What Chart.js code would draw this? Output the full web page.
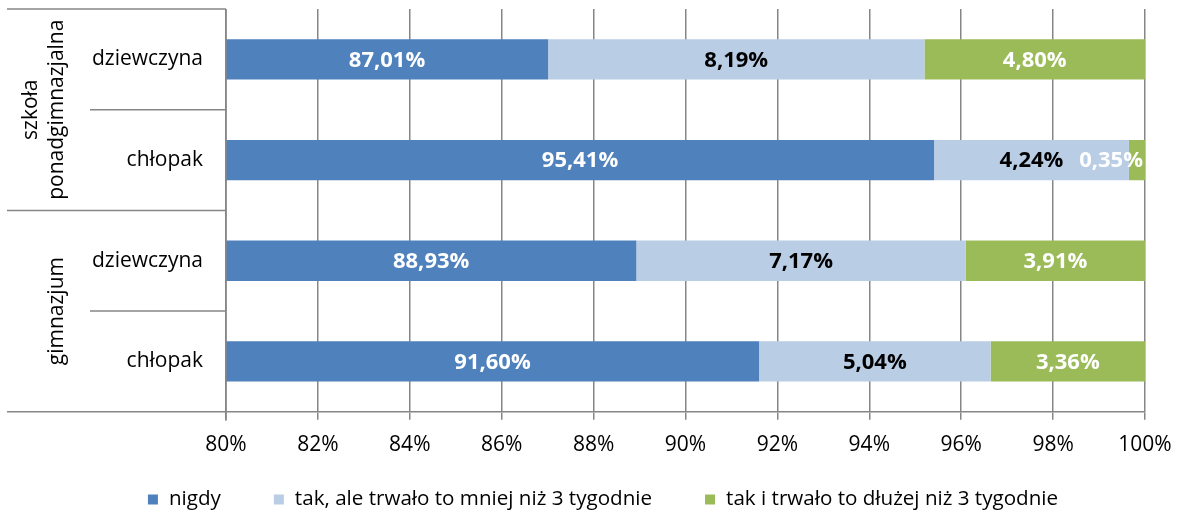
<!DOCTYPE html>
<html lang="pl">

<head>
  <title>Bar chart</title>
  <script src="https://cdn.jsdelivr.net/npm/chart.js"></script>
  <meta charset="utf-8"/>
  <style>
    html, body {
      margin: 0;
      padding: 0;
      background: #fff;
    }

    #chart {
      width: 1181px;
      height: 512px;
    }
  </style>
</head>

<body>
  <div id="chart">
    <canvas id="my_chart"></canvas>
  </div>

<script>
var categoryLabels = ['dziewczyna', 'chłopak', 'dziewczyna', 'chłopak'];
var groupLabels = [['szkoła', 'ponadgimnazjalna'], ['gimnazjum']];
var seriesLabels = ['nigdy', 'tak, ale trwało to mniej niż 3 tygodnie', 'tak i trwało to dłużej niż 3 tygodnie'];
var nigdy = [87.01, 95.41, 88.93, 91.60];
var takKrotko = [8.19, 4.24, 7.17, 5.04];
var takDlugo = [4.80, 0.35, 3.91, 3.36];

const COLORS = ['#4F81BD', '#B9CDE5', '#9BBB59'];
const LABEL_COLORS = ['#ffffff', '#000000', '#ffffff'];
const GRID = '#868686';
const FONT = '"Open Sans", Lato, sans-serif';

function fmt(v) {
  return v.toFixed(2).replace('.', ',') + '%';
}

// value labels in the middle of the visible part of each segment
const barLabels = {
  id: 'barLabels',
  afterDatasetsDraw(chart) {
    const ctx = chart.ctx;
    const area = chart.chartArea;
    ctx.save();
    ctx.font = 'bold 22px ' + FONT;
    ctx.textAlign = 'center';
    ctx.textBaseline = 'middle';
    chart.data.datasets.forEach((ds, i) => {
      chart.getDatasetMeta(i).data.forEach((bar, j) => {
        const l = Math.max(Math.min(bar.x, bar.base), area.left);
        const r = Math.min(Math.max(bar.x, bar.base), area.right);
        let cx = (l + r) / 2;
        const w = ctx.measureText(fmt(ds.data[j])).width;
        if (cx + w / 2 > area.right - 2) cx = area.right - 2 - w / 2;
        ctx.fillStyle = LABEL_COLORS[i];
        ctx.fillText(fmt(ds.data[j]), cx, bar.y + 1);
      });
    });
    ctx.restore();
  }
};

// two level category axis: separators, category names and rotated group names
const groupAxis = {
  id: 'groupAxis',
  afterDraw(chart) {
    const ctx = chart.ctx;
    const ys = chart.scales.y;
    const area = chart.chartArea;
    const step = (area.bottom - area.top) / categoryLabels.length;
    ctx.save();
    ctx.strokeStyle = GRID;
    ctx.lineWidth = 1.5;
    for (let k = 0; k <= categoryLabels.length; k++) {
      const y = area.top + k * step;
      const x0 = (k % 2 === 0) ? 7 : 90;
      ctx.beginPath();
      ctx.moveTo(x0, y);
      ctx.lineTo(area.left, y);
      ctx.stroke();
    }
    ctx.beginPath();
    ctx.moveTo(area.left, area.top);
    ctx.lineTo(area.left, area.bottom + 9);
    ctx.stroke();

    ctx.fillStyle = '#000';
    ctx.font = '21px ' + FONT;
    ctx.textBaseline = 'middle';
    ctx.textAlign = 'right';
    categoryLabels.forEach((t, i) => {
      ctx.fillText(t, area.left - 23, ys.getPixelForValue(i));
    });

    ctx.textAlign = 'center';
    groupLabels.forEach((lines, g) => {
      const cy = area.top + (g * 2 + 1) * step;
      lines.forEach((t, n) => {
        const cx = 57 - (lines.length - 1 - n) * 26;
        ctx.save();
        ctx.translate(cx, cy);
        ctx.rotate(-Math.PI / 2);
        ctx.fillText(t, 0, 0);
        ctx.restore();
      });
    });
    ctx.restore();
  }
};

// legend row under the axis
const bottomLegend = {
  id: 'bottomLegend',
  afterDraw(chart) {
    const ctx = chart.ctx;
    const box = 10, gapText = 11, gapItem = 53, y = 499.5;
    ctx.save();
    ctx.font = '20.6px ' + FONT;
    ctx.textBaseline = 'middle';
    ctx.textAlign = 'left';
    const items = chart.data.datasets.map(ds => ({
      text: ds.label,
      color: ds.backgroundColor,
      w: ctx.measureText(ds.label).width
    }));
    let total = 0;
    items.forEach((it, i) => { total += box + gapText + it.w + (i ? gapItem : 0); });
    let x = 603 - total / 2;
    items.forEach(it => {
      ctx.fillStyle = it.color;
      ctx.fillRect(x, y - box / 2, box, box);
      ctx.fillStyle = '#000';
      ctx.fillText(it.text, x + box + gapText, y);
      x += box + gapText + it.w + gapItem;
    });
    ctx.restore();
  }
};

window.onload = function () {
  const data = {
    labels: categoryLabels,
    datasets: [nigdy, takKrotko, takDlugo].map((values, i) => ({
      label: seriesLabels[i],
      data: values,
      backgroundColor: COLORS[i],
      borderWidth: 0,
      barPercentage: 0.4,
      categoryPercentage: 1
    }))
  };

  const config = {
    type: 'bar',
    data: data,
    plugins: [barLabels, groupAxis, bottomLegend],
    options: {
      indexAxis: 'y',
      responsive: true,
      maintainAspectRatio: false,
      animation: false,
      layout: {
        padding: { top: 9, right: 0, left: 0, bottom: 41 }
      },
      plugins: {
        tooltip: { enabled: false },
        legend: { display: false }
      },
      scales: {
        x: {
          stacked: true,
          min: 80,
          max: 100,
          afterFit: s => { s.paddingRight = 36; s.paddingLeft = 0; },
          ticks: {
            stepSize: 2,
            color: '#000',
            font: { family: FONT, size: 21 },
            padding: 13,
            maxRotation: 0,
            callback: v => v + '%'
          },
          grid: {
            color: GRID,
            lineWidth: 1.5,
            tickLength: 8
          },
          border: { color: GRID, width: 1.5 }
        },
        y: {
          stacked: true,
          afterFit: s => { s.width = 226; },
          ticks: { display: false },
          grid: { display: false, drawTicks: false },
          border: { display: false }
        }
      }
    }
  };

  const ctx = document.getElementById('my_chart').getContext('2d');
  new Chart(ctx, config);
}
</script>

</body>

</html>
